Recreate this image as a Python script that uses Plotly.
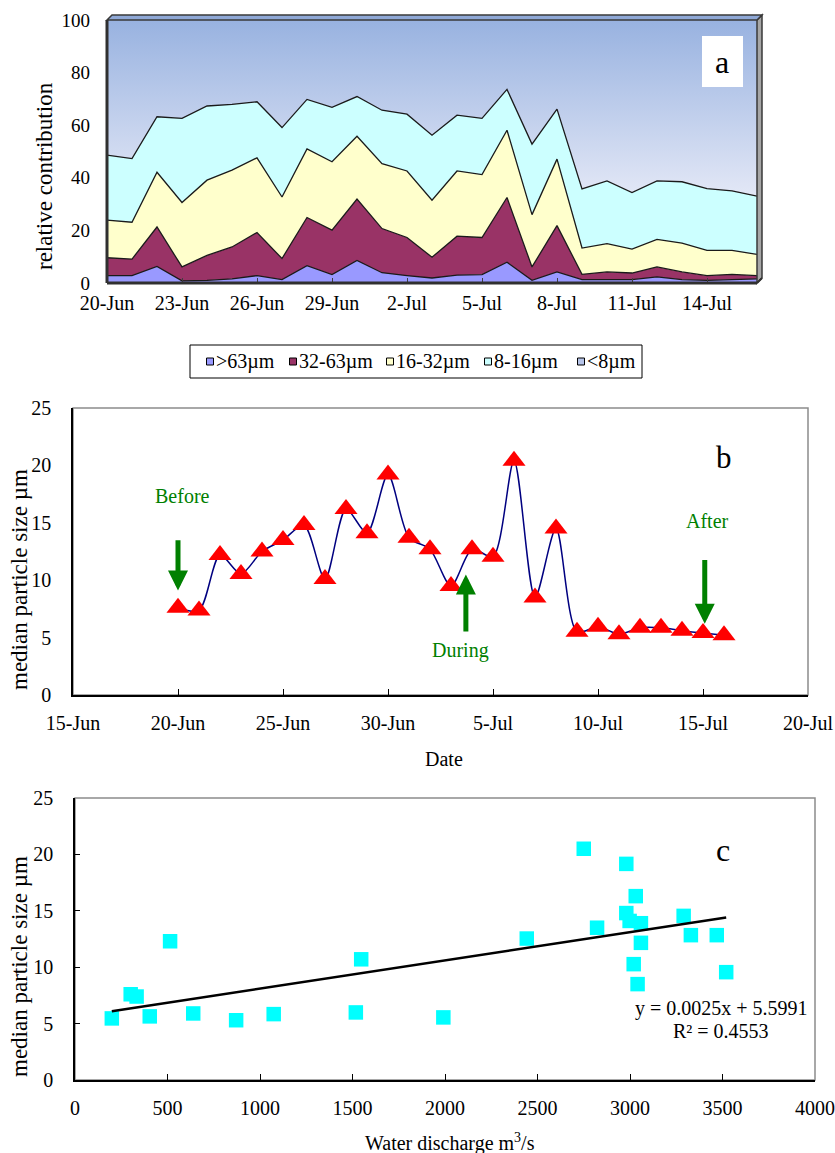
import plotly.graph_objects as go
import pandas as pd

W, H = 835, 1153
FONT = "Liberation Serif"


def px(x):
    return x / W


def py(y):
    return 1 - y / H


# ---------------- data ----------------
dates = [d.strftime("%Y-%m-%d") for d in pd.date_range("2010-06-20", "2010-07-16", freq="D")]

# relative contribution (%) of each size class, panel a
size_gt63 = [2.8, 2.8, 6.3, 0.8, 1.0, 1.6, 2.8, 1.3, 6.6, 3.2, 8.6, 3.9, 2.8, 1.9, 3.0, 3.2, 7.9, 1.0, 4.2,
             1.3, 1.3, 1.3, 2.3, 1.3, 1.0, 1.3, 1.6]
size_32_63 = [6.8, 6.3, 15.0, 5.3, 9.5, 12.1, 16.4, 8.0, 18.3, 16.9, 23.3, 16.8, 14.5, 7.9, 14.8, 14.1, 24.6,
              5.1, 17.6, 2.0, 2.9, 2.5, 3.8, 2.9, 1.8, 2.0, 1.2]
size_16_32 = [14.3, 14.0, 20.8, 24.5, 28.6, 29.2, 28.4, 23.4, 26.1, 26.0, 23.9, 24.7, 25.3, 21.7, 24.8, 23.9,
              25.6, 19.9, 25.3, 10.0, 10.8, 9.1, 10.5, 11.0, 9.6, 9.1, 8.1]
size_8_16 = [24.7, 24.2, 21.1, 32.0, 28.2, 25.0, 21.3, 26.4, 18.8, 20.7, 15.1, 20.3, 21.6, 24.7, 21.2, 21.4,
             15.5, 26.8, 19.0, 22.5, 23.8, 21.5, 22.2, 23.3, 23.5, 22.6, 22.1]
size_lt8 = [51.4, 52.7, 36.8, 37.4, 32.7, 32.1, 31.1, 40.9, 30.2, 33.2, 29.1, 34.3, 35.8, 43.8, 36.2, 37.4,
            26.4, 47.2, 33.9, 64.2, 61.2, 65.6, 61.2, 61.5, 64.1, 65.0, 67.0]
size_labels = [">63µm", "32-63µm", "16-32µm", "8-16µm", "<8µm"]
size_colors = ["#9999ff", "#993366", "#ffffcc", "#ccffff", "#b6c4e9"]

# median particle size (µm), panel b
median_size = [7.6, 7.35, 12.2, 10.55, 12.5, 13.5, 14.8, 10.1, 16.2, 14.1, 19.2, 13.7, 12.7, 9.5, 12.7, 12.05,
               20.4, 8.5, 14.5, 5.5, 5.95, 5.3, 5.85, 5.85, 5.6, 5.4, 5.2]

# water discharge (m3/s) vs median size, panel c
discharge = [199, 301, 333, 404, 514, 639, 871, 1074, 1518, 1547, 1991, 2442, 2750, 2822, 2980, 2980, 2998,
             3031, 3059, 3059, 3020, 3041, 3290, 3329, 3469, 3520]
discharge_median = [5.46, 7.6, 7.4, 5.64, 12.3, 5.9, 5.3, 5.84, 5.99, 10.7, 5.55, 12.54, 20.5, 13.5, 19.16,
                    14.8, 14.1, 16.3, 13.9, 12.16, 10.27, 8.5, 14.55, 12.84, 12.84, 9.56]
fit_slope, fit_intercept, fit_r2 = 0.0025, 5.5991, 0.4553

# ---------------- layout geometry ----------------
dom_a_x = [px(107), px(757)]
dom_a_y = [py(283), py(20)]
dom_b_x = [px(73), px(808)]
dom_b_y = [py(695), py(408)]
dom_c_x = [px(75), px(815)]
dom_c_y = [py(1080), py(798)]

fig = go.Figure()

# ---------------- panel a: stacked areas ----------------
series = [size_gt63, size_32_63, size_16_32, size_8_16, size_lt8]
for i, (vals, name, col) in enumerate(zip(series, size_labels, size_colors)):
    kw = dict(fillcolor=col)
    if i == 4:
        kw = dict(fillgradient=dict(type="vertical",
                                    colorscale=[[0, "#eceef9"], [1, "#98b2e0"]],
                                    start=25, stop=100))
    fig.add_trace(go.Scatter(
        x=dates, y=vals, name=name, stackgroup="one", mode="lines",
        line=dict(color="#1a1a1a", width=1.3 if i < 4 else 0),
        xaxis="x", yaxis="y", showlegend=False, **kw))

# ---------------- panel b ----------------
fig.add_trace(go.Scatter(
    x=dates, y=median_size, mode="lines+markers",
    line=dict(color="#000080", width=1.5, shape="spline", smoothing=0.8),
    marker=dict(symbol="triangle-up", size=20, color="#ff0000"),
    xaxis="x2", yaxis="y2", showlegend=False))

# ---------------- panel c ----------------
fig.add_trace(go.Scatter(
    x=discharge, y=discharge_median, mode="markers",
    marker=dict(symbol="square", size=14.5, color="#00ffff"),
    xaxis="x3", yaxis="y3", showlegend=False))
fit_x = [min(discharge), max(discharge)]
fit_y = [fit_slope * v + fit_intercept for v in fit_x]
fig.add_trace(go.Scatter(
    x=fit_x, y=fit_y, mode="lines", line=dict(color="black", width=2.5),
    xaxis="x3", yaxis="y3", showlegend=False))

tickfont = dict(family=FONT, size=20, color="black")
common = dict(showgrid=False, zeroline=False, automargin=False)

fig.update_layout(
    width=W, height=H,
    margin=dict(l=0, r=0, t=0, b=0, pad=0, autoexpand=False),
    paper_bgcolor="white", plot_bgcolor="white",
    font=dict(family=FONT, color="black"),
    showlegend=False,
    xaxis=dict(domain=dom_a_x, anchor="y", type="date",
               range=[dates[0], dates[-1]],
               tickvals=dates[::3][:9], tickformat="%-d-%b",
               ticks="inside", ticklen=5, tickcolor="#404040", showline=False,
               tickfont=tickfont, ticklabelstandoff=6, **common),
    yaxis=dict(domain=dom_a_y, anchor="x", range=[0, 100], dtick=20,
               showline=False, ticks="",
               tickfont=dict(family=FONT, size=19, color="black"), ticklabelstandoff=16, **common),
    xaxis2=dict(domain=dom_b_x, anchor="y2", type="date",
                range=["2010-06-15", "2010-07-20"],
                tick0="2010-06-15", dtick=5 * 86400000, tickformat="%-d-%b",
                ticks="inside", ticklen=6, tickcolor="black",
                showline=True, linecolor="black", linewidth=1.5,
                tickfont=tickfont, ticklabelstandoff=9, **common),
    yaxis2=dict(domain=dom_b_y, anchor="x2", range=[0, 25], dtick=5,
                showline=True, linecolor="black", linewidth=1.5,
                ticks="", tickfont=tickfont, ticklabelstandoff=16, **common),
    xaxis3=dict(domain=dom_c_x, anchor="y3", range=[0, 4000], dtick=500,
                ticks="inside", ticklen=6, tickcolor="black",
                showline=True, linecolor="black", linewidth=1.5,
                tickfont=tickfont, ticklabelstandoff=9, **common),
    yaxis3=dict(domain=dom_c_y, anchor="x3", range=[0, 25], dtick=5,
                ticks="inside", ticklen=5, tickcolor="black",
                showline=True, linecolor="black", linewidth=1.5,
                tickfont=tickfont, ticklabelstandoff=16, **common),
)

shapes = []
# gray frames (top/right) for panels b and c
for xr, yr in (("x2 domain", "y2 domain"), ("x3 domain", "y3 domain")):
    shapes.append(dict(type="rect", xref=xr, yref=yr, x0=0, x1=1, y0=0, y1=1,
                       line=dict(color="#8c8c8c", width=1.5), layer="below"))

# 3-D style frame for panel a
x0a, x1a = dom_a_x
y0a, y1a = dom_a_y
dx, dy = px(5), 5 / H
shapes.append(dict(type="path", xref="paper", yref="paper",
                   path=f"M {x1a},{y0a} L {x1a+dx},{y0a+dy} L {x1a+dx},{y1a+dy} L {x1a},{y1a} Z",
                   fillcolor="#a6a6a6", line=dict(color="#3a3a3a", width=1.5)))
shapes.append(dict(type="path", xref="paper", yref="paper",
                   path=f"M {x0a},{y1a} L {x0a+dx},{y1a+dy} L {x1a+dx},{y1a+dy} L {x1a},{y1a} Z",
                   fillcolor="#8fa8d6", line=dict(color="#3a3a3a", width=1.5)))
shapes.append(dict(type="line", xref="paper", yref="paper", x0=x0a, x1=x0a, y0=y0a, y1=y1a,
                   line=dict(color="#303030", width=3)))
shapes.append(dict(type="line", xref="paper", yref="paper", x0=x0a, x1=x1a, y0=y0a, y1=y0a,
                   line=dict(color="#303030", width=3)))
shapes.append(dict(type="line", xref="paper", yref="paper", x0=x1a, x1=x1a + dx, y0=y0a, y1=y0a + dy,
                   line=dict(color="#303030", width=2)))
# label box "a"
shapes.append(dict(type="rect", xref="paper", yref="paper", x0=px(702), x1=px(743), y0=py(87), y1=py(36),
                   fillcolor="white", line=dict(width=0)))

# manual legend for panel a
shapes.append(dict(type="rect", xref="paper", yref="paper", x0=px(190), x1=px(642), y0=py(378), y1=py(345),
                   fillcolor="white", line=dict(color="black", width=1)))
legend_x = [210, 293, 390, 488, 581]
annotations = []
for lx, name, col in zip(legend_x, size_labels, size_colors):
    shapes.append(dict(type="rect", xref="paper", yref="paper",
                       x0=px(lx - 3.5), x1=px(lx + 3.5), y0=py(365), y1=py(358),
                       fillcolor=col, line=dict(color="black", width=1)))
    annotations.append(dict(xref="paper", yref="paper", x=px(lx + 3.5), y=py(361.5),
                            xanchor="left", yanchor="middle", text=name, showarrow=False,
                            font=dict(family=FONT, size=20, color="black")))


def txt(x, y, text, size=20, color="black", angle=0, xanchor="center"):
    annotations.append(dict(xref="paper", yref="paper", x=px(x), y=py(y), text=text, showarrow=False,
                            xanchor=xanchor, yanchor="middle", textangle=angle,
                            font=dict(family=FONT, size=size, color=color)))


txt(722, 62, "a", size=32)
txt(44, 176, "relative contribution", size=23, angle=-90)
txt(19, 580, "median particle size µm", size=23, angle=-90)
txt(19, 967, "median particle size µm", size=23, angle=-90)
txt(444, 759, "Date", size=20)
txt(450, 1142, "Water discharge m<sup>3</sup>/s", size=20)
txt(724, 457, "b", size=31)
txt(723, 850, "c", size=32)
txt(721, 1008, f"y = {fit_slope}x + {fit_intercept}", size=20)
txt(721, 1031, f"R² = {fit_r2}", size=20)

green = "#008000"
txt(182, 496, "Before", size=20, color=green)
txt(460, 650, "During", size=20, color=green)
txt(707, 521, "After", size=20, color=green)

# event arrows (tail -> head) in panel b data coordinates
arrows = [("2010-06-20 00:00", 13.6, 9.1),
          ("2010-07-03 17:00", 5.4, 10.5),
          ("2010-07-15 02:00", 11.9, 6.2)]
for ax_date, y_tail, y_head in arrows:
    annotations.append(dict(xref="x2", yref="y2", axref="x2", ayref="y2",
                            x=ax_date, y=y_head, ax=ax_date, ay=y_tail, text="",
                            showarrow=True, arrowhead=2, arrowsize=0.8, arrowwidth=5,
                            arrowcolor=green))

fig.update_layout(shapes=shapes, annotations=annotations)

fig.write_html("out.html")
